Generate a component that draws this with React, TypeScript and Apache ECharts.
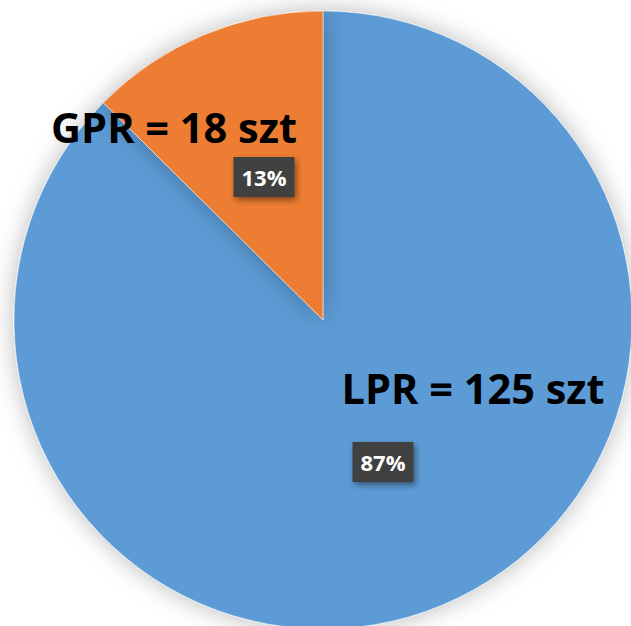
import React, { useEffect, useRef } from "react";
import * as echarts from "echarts";

const categories = ["LPR", "GPR"];
const values = [125, 18];
const unit = "szt";

const namePos = [
  [473, 388],
  [174, 127],
];
const pctPos = [
  [383, 462],
  [264, 177],
];

export default function App() {
  const ref = useRef<HTMLDivElement>(null);
  useEffect(() => {
    document.body.style.margin = "0";
    const chart = echarts.init(ref.current!, null, { renderer: "svg" });
    const data = categories.map((c, i) => ({ name: c, value: values[i] }));
    const colors = ["#5B9BD5", "#ED7D31"];
    chart.setOption({
      animation: false,
      color: colors,
      series: [
        {
          type: "pie",
          center: [323, 320],
          radius: 309,
          startAngle: 90,
          clockwise: true,
          data,
          itemStyle: {
            borderColor: "rgba(255,255,255,0.6)",
            borderWidth: 0.8,
            shadowBlur: 24,
            shadowColor: "rgba(0,0,0,0.28)",
          },
          label: {
            show: true,
            position: "inside",
            formatter: (p: any) => `${p.name} = ${p.value} ${unit}`,
            fontFamily: "Open Sans",
            fontWeight: "bold",
            fontSize: 41.5,
            color: "#000",
          },
          labelLayout: (p: any) => ({
            x: namePos[p.dataIndex][0],
            y: namePos[p.dataIndex][1],
            align: "center",
            verticalAlign: "middle",
          }),
          labelLine: { show: false },
          emphasis: { disabled: true },
        },
        {
          type: "pie",
          center: [323, 320],
          radius: 309,
          startAngle: 90,
          clockwise: true,
          silent: true,
          percentPrecision: 0,
          data,
          itemStyle: { color: "transparent" },
          label: {
            show: true,
            position: "inside",
            formatter: "{d}%",
            fontFamily: "Open Sans",
            fontWeight: "bold",
            fontSize: 22,
            lineHeight: 22,
            color: "#fff",
            backgroundColor: "#404040",
            padding: [10, 8, 8, 8],
            shadowBlur: 6,
            shadowOffsetX: 2,
            shadowOffsetY: 3,
            shadowColor: "rgba(0,0,0,0.45)",
          },
          labelLayout: (p: any) => ({
            x: pctPos[p.dataIndex][0],
            y: pctPos[p.dataIndex][1],
            align: "center",
            verticalAlign: "middle",
          }),
          labelLine: { show: false },
          emphasis: { disabled: true },
        },
      ],
    });
    return () => chart.dispose();
  }, []);
  return (
    <div
      ref={ref}
      style={{ position: "absolute", left: 0, top: 0, width: 631, height: 626, background: "#fff" }}
    />
  );
}
